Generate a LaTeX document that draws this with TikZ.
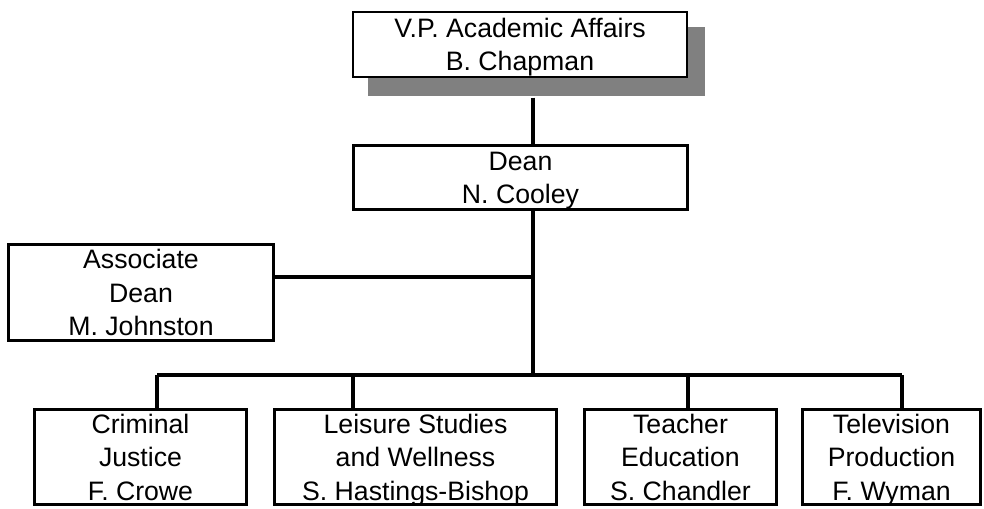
\documentclass[tikz,border=0pt]{standalone}
\usepackage{fontspec}
\setmainfont{Liberation Sans}
\usetikzlibrary{positioning}
\definecolor{shadowgray}{HTML}{808080}

\begin{document}
\begin{tikzpicture}[x=0.75pt, y=-0.75pt, line width=2.3pt,
  box/.style={draw, align=center, inner sep=0pt, fill=white, text depth=0pt,
    minimum height=71.25pt, font=\fontsize{20}{25}\selectfont}]
  \useasboundingbox (0,0) rectangle (984,508);
  % top of the chart
  \node[fill=shadowgray, inner sep=0pt, minimum width=252.75pt, minimum height=51.75pt] (VPs) at (536.5,61.5) {};
  \node[box, line width=1.2pt, minimum width=250.5pt, minimum height=48.75pt] (VP) at (520,44.5) {V.P. Academic Affairs\\B. Chapman};
  \node[box, minimum width=250.5pt, minimum height=48pt] (Dean) at (520.5,177.5) {Dean\\N. Cooley};
  \node[box, minimum width=198.75pt, minimum height=72pt] (Assoc) at (141,292.5) {Associate\\Dean\\M. Johnston};
  % departments
  \node[box, minimum width=159pt] (Crim) at (140.5,457) {Criminal\\Justice\\F. Crowe};
  \node[box, minimum width=211.5pt] (Leis) at (415.5,457) {Leisure Studies\\and Wellness\\S. Hastings-Bishop};
  \node[box, minimum width=144pt] (Teach) at (680.5,457) {Teacher\\Education\\S. Chandler};
  \node[box, minimum width=133.5pt] (TV) at (891.5,457) {Television\\Production\\F. Wyman};
  \coordinate (J) at (533,277);
  \coordinate (B) at (533,375);
  \coordinate (B1) at (157,375);
  \coordinate (B2) at (353,375);
  \coordinate (B3) at (688,375);
  \coordinate (B4) at (902,375);
  \draw (VPs.south -| J) -- (Dean.north -| J);
  \draw (Dean.south -| J) -- (B);
  \draw (Assoc.east |- J) -- (J);
  \draw (B1) -- (B4);
  \draw (B1) -- (B1 |- Crim.north);
  \draw (B2) -- (B2 |- Leis.north);
  \draw (B3) -- (B3 |- Teach.north);
  \draw (B4) -- (B4 |- TV.north);
\end{tikzpicture}
\end{document}
